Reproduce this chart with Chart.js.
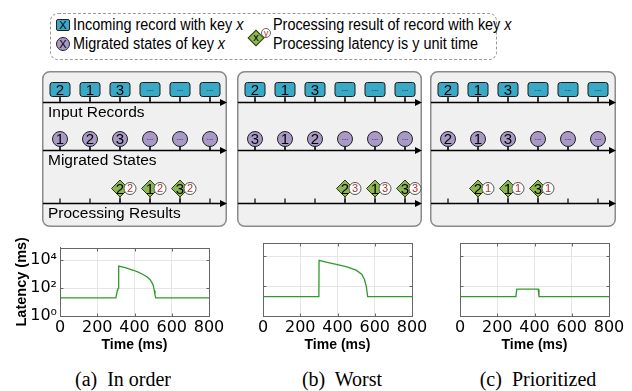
<!DOCTYPE html>
<html>
<head>
<meta charset="utf-8">
<script src="https://cdn.jsdelivr.net/npm/chart.js@4.4.1/dist/chart.umd.min.js"></script>
<style>
  body { margin: 0; width: 632px; height: 391px; background: #fff; position: relative; overflow: hidden;
         font-family: 'Liberation Sans', Arial, sans-serif; }
  canvas { position: absolute; }
  .abs { position: absolute; white-space: nowrap; }
  .legtxt { font-family: 'Liberation Sans', Arial, sans-serif; font-size: 16px; line-height: 18px; color: #000;
            transform: scaleX(0.9); transform-origin: 0 50%; }
  .cap { position: absolute; top: 368px; font-family: 'Liberation Serif', serif; font-size: 20px; text-align: center; }
</style>
</head>
<body>

<!-- legend box -->
<div class="abs" style="left:50px;top:13px;width:447px;height:47px;border:1.4px dashed #999;border-radius:8px;box-sizing:border-box"></div>
<div class="abs" style="left:56px;top:19px;width:14px;height:12px;background:#3aa9c5;border:1px solid #222;border-radius:2px;box-sizing:border-box;font-size:11px;line-height:10px;text-align:center">X</div>
<div class="abs legtxt" style="left:73px;top:16px">Incoming record with key <i>x</i></div>
<div class="abs" style="left:56px;top:37px;width:14px;height:14px;background:#a899c6;border:1px solid #222;border-radius:50%;box-sizing:border-box;font-size:11px;line-height:12px;text-align:center">X</div>
<div class="abs legtxt" style="left:73px;top:35px">Migrated states of key <i>x</i></div>
<div class="abs" style="left:250px;top:32px;width:12px;height:12px;background:#8cb650;border:1px solid #2a3a1a;transform:rotate(45deg);box-sizing:border-box"></div>
<div class="abs" style="left:250px;top:31px;width:12px;font-size:11px;line-height:13px;text-align:center">x</div>
<div class="abs" style="left:261px;top:28px;width:10px;height:10px;background:#fff;border:1px solid #666;border-radius:50%;box-sizing:border-box;font-size:9px;line-height:8px;text-align:center;color:#b0302a">y</div>
<div class="abs legtxt" style="left:273px;top:16px">Processing result of record with key <i>x</i></div>
<div class="abs legtxt" style="left:273px;top:35px">Processing latency is y unit time</div>

<canvas id="panelA" width="185" height="156" style="left:42px;top:71px"></canvas>
<canvas id="panelB" width="185" height="156" style="left:237px;top:71px"></canvas>
<canvas id="panelC" width="186" height="156" style="left:430px;top:71px"></canvas>

<canvas id="latA" width="232" height="125" style="left:0px;top:235px"></canvas>
<canvas id="latB" width="195" height="125" style="left:240px;top:235px"></canvas>
<canvas id="latC" width="197" height="125" style="left:435px;top:235px"></canvas>

<div class="cap" style="left:63px;width:120px">(a)&nbsp; In order</div>
<div class="cap" style="left:282px;width:120px">(b)&nbsp; Worst</div>
<div class="cap" style="left:458px;width:160px">(c)&nbsp; Prioritized</div>

<script>
// diagram data
const slots = [1, 2, 3, 4, 5, 6];
const recordKeys = ['2', '1', '3', '...', '...', '...'];
const stateKeysA = ['1', '2', '3', '...', '...', '...'];
const stateKeysB = ['3', '1', '2', '...', '...', '...'];
const stateKeysC = ['2', '1', '3', '...', '...', '...'];
const resultKeys = ['2', '1', '3'];
const resultSlotsA = [3, 4, 5];
const resultSlotsB = [4, 5, 6];
const resultSlotsC = [2, 3, 4];
const resultLatA = ['2', '2', '2'];
const resultLatB = ['3', '3', '3'];
const resultLatC = ['1', '1', '1'];
const laneNames = ['Input Records', 'Migrated States', 'Processing Results'];

// latency curves (ms)
const timeTicks = [0, 200, 400, 600, 800];
const latencyTicks = [1, 100, 10000];
const latencyTickLabels = ['10\u2070', '10\u00b2', '10\u2074'];
const timesA = [0, 300, 308, 310, 314, 315, 350, 394, 420, 448, 470, 483, 495, 501, 506, 510, 514, 800];
const latencyA = [20, 20, 70, 90, 100, 3800, 2900, 1900, 1400, 900, 600, 420, 230, 150, 70, 33, 20, 20];
const timesB = [0, 300, 301, 350, 400, 450, 500, 530, 545, 555, 562, 800];
const latencyB = [20, 20, 5500, 3900, 2800, 2000, 1200, 650, 280, 90, 20, 20];
const timesC = [0, 300, 305, 420, 424, 800];
const latencyC = [20, 20, 63, 63, 20, 20];

const TEAL = '#3aa9c5', LILAC = '#a899c6', GREEN = '#8cb650';
const laneAxisOffset = [12, 11, 14];

function roundRect(ctx, x, y, w, h, r) {
    ctx.beginPath();
    ctx.moveTo(x + r, y);
    ctx.arcTo(x + w, y, x + w, y + h, r);
    ctx.arcTo(x + w, y + h, x, y + h, r);
    ctx.arcTo(x, y + h, x, y, r);
    ctx.arcTo(x, y, x + w, y, r);
    ctx.closePath();
}

function keyText(ctx, txt, x, y, size, color) {
    ctx.fillStyle = color || '#000';
    ctx.textAlign = 'center';
    ctx.textBaseline = 'middle';
    if (txt === '...') {
        ctx.font = '8px "Liberation Sans"';
        ctx.fillText(txt, x, y - 1);
    } else {
        ctx.font = size + 'px "Liberation Sans"';
        ctx.fillText(txt, x, y + 1);
    }
}

function diagramPlugin(showLabels) {
    return {
        id: 'diagram',
        beforeDatasetsDraw(chart) {
            const ctx = chart.ctx, W = chart.width, H = chart.height;
            const xs = chart.scales.x, ys = chart.scales.y;
            ctx.save();
            roundRect(ctx, 0.75, 0.75, W - 1.5, H - 1.5, 7);
            ctx.fillStyle = '#f0f0f0';
            ctx.fill();
            ctx.strokeStyle = '#8a8a8a';
            ctx.lineWidth = 1.5;
            ctx.stroke();
            for (let lane = 0; lane < 3; lane++) {
                const ya = Math.round(ys.getPixelForValue(lane) + laneAxisOffset[lane]) + 0.5;
                ctx.strokeStyle = '#000';
                ctx.lineWidth = 1.5;
                ctx.beginPath();
                ctx.moveTo(1, ya);
                ctx.lineTo(W - 6, ya);
                ctx.stroke();
                ctx.fillStyle = '#000';
                ctx.beginPath();
                ctx.moveTo(W, ya);
                ctx.lineTo(W - 7, ya - 3.5);
                ctx.lineTo(W - 7, ya + 3.5);
                ctx.closePath();
                ctx.fill();
                ctx.lineWidth = 1.2;
                slots.forEach(s => {
                    const px = xs.getPixelForValue(s);
                    ctx.beginPath();
                    ctx.moveTo(px, ya - 5);
                    ctx.lineTo(px, ya);
                    ctx.stroke();
                });
                if (showLabels) {
                    ctx.fillStyle = '#000';
                    ctx.font = '15.5px "Liberation Sans"';
                    ctx.textAlign = 'left';
                    ctx.textBaseline = 'middle';
                    ctx.fillText(laneNames[lane], 6, ya + 10);
                }
            }
            ctx.restore();
        },
        afterDatasetsDraw(chart) {
            const ctx = chart.ctx;
            ctx.save();
            ctx.lineWidth = 1;
            // records
            chart.getDatasetMeta(0).data.forEach((pt, i) => {
                const d = chart.data.datasets[0].data[i];
                const ya = pt.y + laneAxisOffset[0];
                ctx.strokeStyle = '#000';
                ctx.beginPath(); ctx.moveTo(pt.x, pt.y); ctx.lineTo(pt.x, ya); ctx.stroke();
                roundRect(ctx, pt.x - 10, pt.y - 7, 20, 14, 2.5);
                ctx.fillStyle = TEAL; ctx.fill();
                ctx.strokeStyle = '#1a1a1a'; ctx.stroke();
                keyText(ctx, d.key, pt.x, pt.y, 15);
            });
            // migrated states
            chart.getDatasetMeta(1).data.forEach((pt, i) => {
                const d = chart.data.datasets[1].data[i];
                const ya = pt.y + laneAxisOffset[1];
                ctx.strokeStyle = '#000';
                ctx.beginPath(); ctx.moveTo(pt.x, pt.y); ctx.lineTo(pt.x, ya); ctx.stroke();
                ctx.beginPath(); ctx.arc(pt.x, pt.y, 7.5, 0, Math.PI * 2);
                ctx.fillStyle = LILAC; ctx.fill();
                ctx.strokeStyle = '#222'; ctx.stroke();
                keyText(ctx, d.key, pt.x, pt.y, 15);
            });
            // processing results
            chart.getDatasetMeta(2).data.forEach((pt, i) => {
                const d = chart.data.datasets[2].data[i];
                const ya = pt.y + laneAxisOffset[2];
                ctx.strokeStyle = '#000';
                ctx.beginPath(); ctx.moveTo(pt.x, pt.y); ctx.lineTo(pt.x, ya); ctx.stroke();
                ctx.beginPath();
                ctx.moveTo(pt.x, pt.y - 8.5); ctx.lineTo(pt.x + 8.5, pt.y);
                ctx.lineTo(pt.x, pt.y + 8.5); ctx.lineTo(pt.x - 8.5, pt.y);
                ctx.closePath();
                ctx.fillStyle = GREEN; ctx.fill();
                ctx.strokeStyle = '#2a3a1a'; ctx.stroke();
                keyText(ctx, d.key, pt.x, pt.y, 15);
                ctx.beginPath(); ctx.arc(pt.x + 10, pt.y, 6, 0, Math.PI * 2);
                ctx.fillStyle = '#fff'; ctx.fill();
                ctx.strokeStyle = '#555'; ctx.stroke();
                keyText(ctx, d.lat, pt.x + 10, pt.y - 0.5, 11, '#b0302a');
            });
            ctx.restore();
        }
    };
}

function buildDiagram(id, stateKeys, resSlots, resLat, showLabels) {
    const el = document.getElementById(id);
    const config = {
        type: 'scatter',
        data: {
            datasets: [
                { data: slots.map((s, i) => ({ x: s, y: 0, key: recordKeys[i] })), pointRadius: 0 },
                { data: slots.map((s, i) => ({ x: s, y: 1, key: stateKeys[i] })), pointRadius: 0 },
                { data: resSlots.map((s, i) => ({ x: s, y: 2, key: resultKeys[i], lat: resLat[i] })), pointRadius: 0 },
            ]
        },
        options: {
            responsive: false,
            animation: false,
            events: [],
            layout: { padding: 0 },
            plugins: { legend: { display: false }, tooltip: { enabled: false } },
            scales: {
                x: { type: 'linear', display: false, min: 0.4, max: 0.4 + el.width / 30 },
                y: { type: 'linear', display: false, reverse: true, min: -0.374, max: -0.374 + el.height / 49.5 }
            }
        },
        plugins: [diagramPlugin(showLabels)]
    };
    return new Chart(el, config);
}

// box around the plot with small inward ticks, like matplotlib
const framePlugin = {
    id: 'frame',
    afterDraw(chart) {
        const a = chart.chartArea, ctx = chart.ctx;
        const l = Math.round(a.left) + 0.5, t = Math.round(a.top) + 0.5;
        const r = Math.round(a.right) + 0.5, b = Math.round(a.bottom) + 0.5;
        ctx.save();
        ctx.strokeStyle = '#666';
        ctx.lineWidth = 1;
        ctx.strokeRect(l, t, r - l, b - t);
        ctx.beginPath();
        chart.scales.x.ticks.forEach(tk => {
            const px = Math.round(chart.scales.x.getPixelForValue(tk.value)) + 0.5;
            ctx.moveTo(px, b); ctx.lineTo(px, b - 3);
            ctx.moveTo(px, t); ctx.lineTo(px, t + 3);
        });
        chart.scales.y.ticks.forEach(tk => {
            const py = Math.round(chart.scales.y.getPixelForValue(tk.value)) + 0.5;
            ctx.moveTo(l, py); ctx.lineTo(l + 3, py);
            ctx.moveTo(r, py); ctx.lineTo(r - 3, py);
        });
        ctx.stroke();
        ctx.restore();
    }
};

function buildLatency(id, times, lat, showY, yWidth) {
    const config = {
        type: 'line',
        data: {
            datasets: [{
                data: times.map((t, i) => ({ x: t, y: lat[i] })),
                borderColor: '#2e9a2e',
                borderWidth: 1.3,
                pointRadius: 0,
                tension: 0,
            }]
        },
        options: {
            responsive: false,
            animation: false,
            events: [],
            layout: { padding: { top: 8, right: 23, left: 0, bottom: 0 } },
            plugins: { legend: { display: false }, tooltip: { enabled: false } },
            scales: {
                x: {
                    type: 'linear', min: 0, max: 800,
                    afterBuildTicks: s => { s.ticks = timeTicks.map(v => ({ value: v })); },
                    afterFit: s => { s.height = 44; },
                    grid: { color: '#e6e6e6', drawTicks: false },
                    border: { color: '#666' },
                    ticks: { font: { family: 'DejaVu Sans', size: 16 }, color: '#000', maxRotation: 0, autoSkip: false, padding: 2 },
                    title: { display: true, text: 'Time (ms)', color: '#000', padding: { top: 0, bottom: 6 },
                             font: { family: 'Liberation Sans', weight: 'bold', size: 14 } }
                },
                y: {
                    type: 'logarithmic', min: 1, max: 80000,
                    afterBuildTicks: s => { s.ticks = latencyTicks.map(v => ({ value: v })); },
                    afterFit: s => { s.width = yWidth; },
                    grid: { color: '#e6e6e6', drawTicks: false },
                    border: { color: '#666' },
                    ticks: {
                        display: showY, padding: 3, color: '#000',
                        font: { family: 'DejaVu Sans', size: 16 },
                        callback: v => latencyTickLabels[latencyTicks.indexOf(v)]
                    },
                    title: { display: showY, text: 'Latency (ms)', color: '#000', padding: { top: 13, bottom: 0 },
                             font: { family: 'Liberation Sans', weight: 'bold', size: 14.5 } }
                }
            }
        },
        plugins: [framePlugin]
    };
    return new Chart(document.getElementById(id), config);
}

buildDiagram('panelA', stateKeysA, resultSlotsA, resultLatA, true);
buildDiagram('panelB', stateKeysB, resultSlotsB, resultLatB, false);
buildDiagram('panelC', stateKeysC, resultSlotsC, resultLatC, false);

buildLatency('latA', timesA, latencyA, true, 60);
buildLatency('latB', timesB, latencyB, false, 23);
buildLatency('latC', timesC, latencyC, false, 25);
</script>
</body>
</html>
